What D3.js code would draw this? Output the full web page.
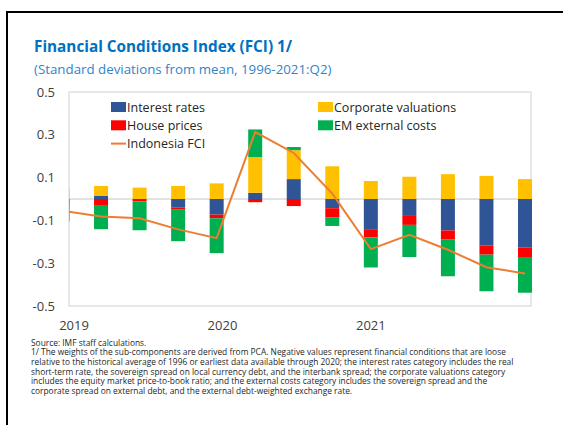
<!DOCTYPE html>
<meta charset="utf-8">
<style>
body{
    margin:0;
    background:white;
}
svg text{
    font-family:"Open Sans", sans-serif;
}
.ylab text, .xlab text{
    fill:#404040;
    font-size:13px;
}
.legend text{
    fill:#262626;
    font-size:12.5px;
}
.note text{
    fill:#262626;
    font-size:8.4px;
}
</style>
<body>
<script src="https://cdn.jsdelivr.net/npm/d3@7"></script>
<script>
// quarters shown (first one is cut off by the left edge of the plot)
var periods = ["2018Q4","2019Q1","2019Q2","2019Q3","2019Q4","2020Q1","2020Q2","2020Q3","2020Q4","2021Q1","2021Q2","2021Q3","2021Q4"];

var interestRates = [0, 0.014, 0, -0.039, -0.073, 0.029, 0.093, -0.043, -0.141, -0.079, -0.147, -0.217, -0.226];
var housePrices   = [-0.037, -0.028, -0.011, -0.011, -0.017, -0.015, -0.033, -0.044, -0.039, -0.042, -0.043, -0.043, -0.045];
var corpValuations= [0.047, 0.047, 0.053, 0.061, 0.073, 0.167, 0.135, 0.153, 0.084, 0.104, 0.116, 0.108, 0.093];
var emExternal    = [-0.068, -0.113, -0.135, -0.147, -0.163, 0.129, 0.015, -0.039, -0.140, -0.150, -0.171, -0.171, -0.167];
var indonesiaFCI  = [-0.055, -0.082, -0.090, -0.142, -0.183, 0.313, 0.215, 0.025, -0.234, -0.167, -0.237, -0.319, -0.348];

var yTicks = [0.5, 0.3, 0.1, -0.1, -0.3, -0.5];
var yTickLabels = ["0.5", "0.3", "0.1", "-0.1", "-0.3", "-0.5"];
// year labels sit at a fractional period index
var yearLabels = ["2019", "2020", "2021"];
var yearAt = [0.3, 4.15, 8.0];

var seriesNames = ["Interest rates", "House prices", "Corporate valuations", "EM external costs"];
var seriesColors = ["#2F5597", "#FF0000", "#FFC000", "#00B050"];
var lineColor = "#ED7D31";

var title = "Financial Conditions Index (FCI) 1/";
var subtitle = "(Standard deviations from mean, 1996-2021:Q2)";
var notes = [
    "Source: IMF staff calculations.",
    "1/ The weights of the sub-components are derived from PCA. Negative values represent financial conditions that are loose",
    "relative to the historical average of 1996 or earliest data available through 2020; the interest rates category includes the real",
    "short-term rate, the sovereign spread on local currency debt, and the interbank spread; the corporate valuations category",
    "includes the equity market price-to-book ratio; and the external costs category includes the sovereign spread and the",
    "corporate spread on external debt, and the external debt-weighted exchange rate."
];

var W = 563, H = 425;
var plot = {left:69, right:531, top:92, bottom:306};
var barW = 14;

var svg = d3.select("body").append("svg").attr("width", W).attr("height", H);

// outer frame (runs off the page on the right and bottom)
svg.append("rect")
    .attr("x", 7).attr("y", 12)
    .attr("width", 600).attr("height", 500)
    .attr("fill", "none").attr("stroke", "black").attr("stroke-width", 2);

svg.append("text").attr("x", 34).attr("y", 51.5)
    .attr("fill", "#0070C0").attr("font-weight", "bold").attr("font-size", "15.3px")
    .text(title);
svg.append("text").attr("x", 34).attr("y", 74)
    .attr("fill", "#2F84CC").attr("font-size", "13.3px")
    .text(subtitle);

var x = d3.scaleLinear().domain([0, periods.length - 1]).range([62.5, 525]);
var y = d3.scaleLinear().domain([-0.5, 0.5]).range([plot.bottom, plot.top]);

svg.append("clipPath").attr("id", "clip")
    .append("rect")
    .attr("x", plot.left).attr("y", plot.top - 5)
    .attr("width", W - plot.left).attr("height", plot.bottom - plot.top + 10);

svg.append("rect")
    .attr("x", plot.left).attr("y", plot.top)
    .attr("width", plot.right - plot.left).attr("height", plot.bottom - plot.top)
    .attr("fill", "none").attr("stroke", "#d9d9d9").attr("stroke-width", 1.2);

svg.append("line")
    .attr("x1", plot.left).attr("x2", plot.right)
    .attr("y1", y(0)).attr("y2", y(0))
    .attr("stroke", "#d9d9d9").attr("stroke-width", 1.5);

var rows = periods.map(function(p, i){
    return {period:p, i:i,
            "Interest rates":interestRates[i],
            "House prices":housePrices[i],
            "Corporate valuations":corpValuations[i],
            "EM external costs":emExternal[i]};
});

var stacked = d3.stack().keys(seriesNames).offset(d3.stackOffsetDiverging)(rows);

var g = svg.append("g").attr("clip-path", "url(#clip)");

g.selectAll("g.series").data(stacked).enter()
    .append("g").attr("class", "series")
    .attr("fill", function(d, k){ return seriesColors[k]; })
    .selectAll("rect").data(function(d){ return d; }).enter()
        .append("rect")
        .attr("x", function(d){ return x(d.data.i) - barW / 2; })
        .attr("width", barW)
        .attr("y", function(d){ return y(Math.max(d[0], d[1])); })
        .attr("height", function(d){ return Math.abs(y(d[0]) - y(d[1])); });

var line = d3.line()
    .x(function(d, i){ return x(i); })
    .y(function(d){ return y(d); });

g.append("path").datum(indonesiaFCI)
    .attr("d", line)
    .attr("fill", "none")
    .attr("stroke", lineColor)
    .attr("stroke-width", 2);

// y axis labels
var yAxis = d3.axisLeft(y)
    .tickValues(yTicks)
    .tickFormat(function(d, i){ return yTickLabels[i]; })
    .tickSize(0).tickPadding(14);
svg.append("g").attr("class", "ylab")
    .attr("transform", "translate(" + plot.left + ",0)")
    .call(yAxis)
    .call(function(a){ a.select(".domain").remove(); })
    .selectAll("text").attr("font-family", null).attr("font-size", null);

svg.append("g").attr("class", "xlab")
    .selectAll("text").data(yearLabels).enter()
    .append("text")
    .attr("x", function(d, i){ return x(yearAt[i]); })
    .attr("y", 330)
    .attr("text-anchor", "middle")
    .text(function(d){ return d; });

// legend, two columns
var legendItems = [
    {name:"Interest rates", color:seriesColors[0], col:0, row:0, type:"box"},
    {name:"House prices", color:seriesColors[1], col:0, row:1, type:"box"},
    {name:"Indonesia FCI", color:lineColor, col:0, row:2, type:"line"},
    {name:"Corporate valuations", color:seriesColors[2], col:1, row:0, type:"box"},
    {name:"EM external costs", color:seriesColors[3], col:1, row:1, type:"box"}
];
var leg = svg.append("g").attr("class", "legend")
    .selectAll("g").data(legendItems).enter()
    .append("g")
    .attr("transform", function(d){
        return "translate(" + (d.col ? 318 : 111) + "," + (107 + d.row * 18.3) + ")";
    });
leg.filter(function(d){ return d.type == "box"; })
    .append("rect")
    .attr("x", 0).attr("y", -5).attr("width", 15).attr("height", 10)
    .attr("fill", function(d){ return d.color; });
leg.filter(function(d){ return d.type == "line"; })
    .append("line")
    .attr("x1", 0).attr("x2", 15).attr("y1", 0).attr("y2", 0)
    .attr("stroke", function(d){ return d.color; }).attr("stroke-width", 2);
leg.append("text")
    .attr("x", 16).attr("dy", "0.36em")
    .text(function(d){ return d.name; });

svg.append("g").attr("class", "note")
    .selectAll("text").data(notes).enter()
    .append("text")
    .attr("x", 31)
    .attr("y", function(d, i){ return 345.5 + i * 9.7; })
    .text(function(d){ return d; });
</script>
